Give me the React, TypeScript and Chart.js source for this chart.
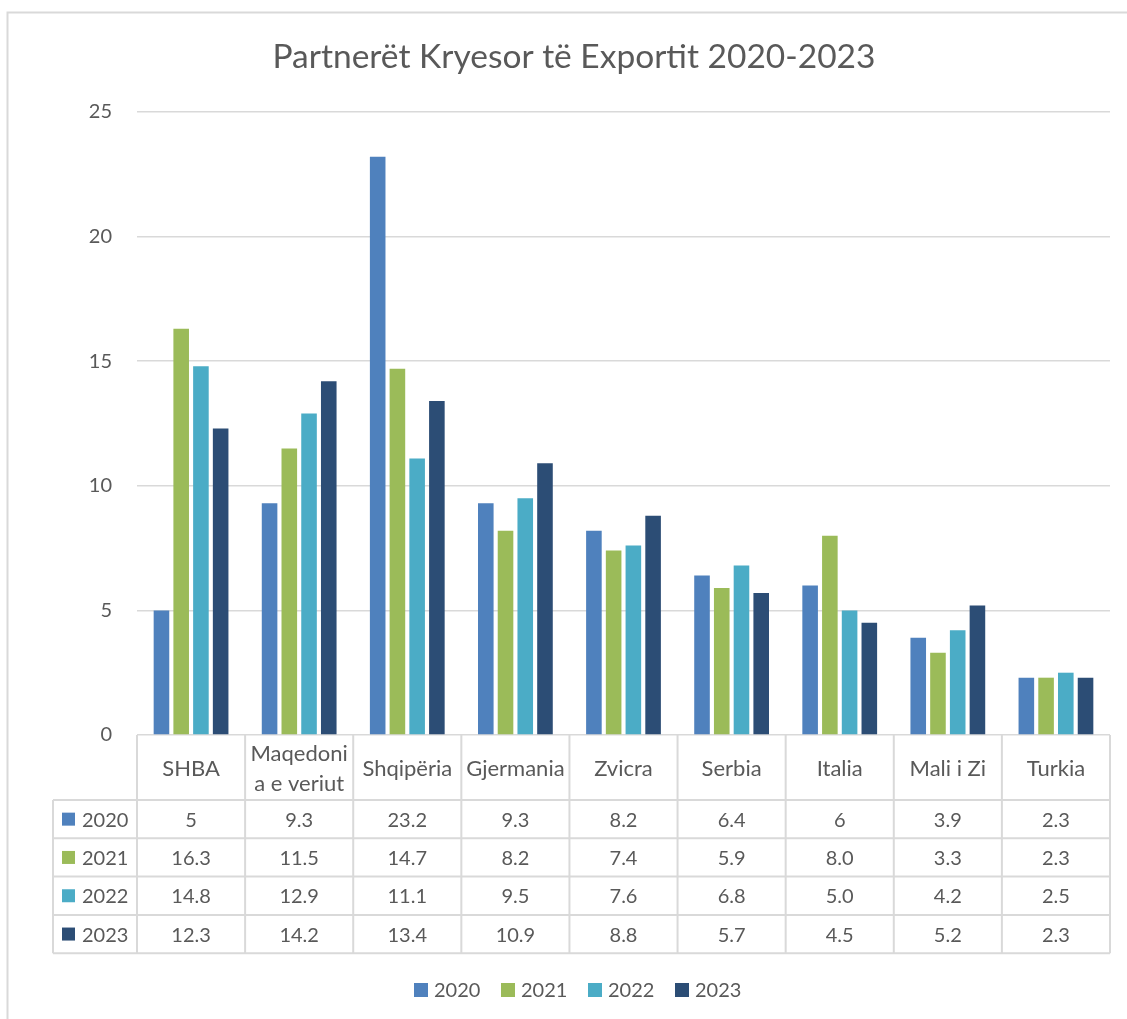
import React, { useEffect, useRef } from "react";
import { Chart, registerables } from "chart.js";

Chart.register(...registerables);

const chartTitle = "Partnerët Kryesor të Exportit 2020-2023";
const categories: (string | string[])[] = [
  "SHBA",
  ["Maqedoni", "a e veriut"],
  "Shqipëria",
  "Gjermania",
  "Zvicra",
  "Serbia",
  "Italia",
  "Mali i Zi",
  "Turkia",
];
const years = ["2020", "2021", "2022", "2023"];
const values2020 = [5, 9.3, 23.2, 9.3, 8.2, 6.4, 6, 3.9, 2.3];
const values2021 = [16.3, 11.5, 14.7, 8.2, 7.4, 5.9, 8.0, 3.3, 2.3];
const values2022 = [14.8, 12.9, 11.1, 9.5, 7.6, 6.8, 5.0, 4.2, 2.5];
const values2023 = [12.3, 14.2, 13.4, 10.9, 8.8, 5.7, 4.5, 5.2, 2.3];
const seriesValues = [values2020, values2021, values2022, values2023];
const seriesColors = ["#4F81BD", "#9BBB59", "#4BACC6", "#2C4D75"];
// table number format per series: null = general, number = fixed decimals
const tableDecimals: (number | null)[] = [null, 1, 1, 1];
const yMin = 0;
const yMax = 25;
const yStep = 5;

const W = 1127;
const H = 1019;
const FONT = "Lato, 'Open Sans', sans-serif";
const TEXT = "#595959";
const LINE = "#d9d9d9";
const PAD_LEFT = 38;

const tablePlugin = {
  id: "dataTableAndLegend",
  afterDraw(chart: any) {
    const { ctx, chartArea, scales } = chart;
    const xs = scales.x;
    const n = categories.length;
    const cw = (chartArea.right - chartArea.left) / n;
    const headerTop = chartArea.bottom;
    const headerBottom = headerTop + 65;
    const rowH = 38.3;
    const leftCol = 53;
    const tableBottom = headerBottom + rowH * years.length;

    ctx.save();
    // outer frame
    ctx.strokeStyle = LINE;
    ctx.lineWidth = 2;
    ctx.beginPath();
    ctx.moveTo(7.5, H);
    ctx.lineTo(7.5, 12.5);
    ctx.lineTo(W, 12.5);
    ctx.stroke();

    // table lines
    ctx.lineWidth = 2;
    ctx.beginPath();
    for (let i = 0; i <= n; i++) {
      const bx = chartArea.left + i * cw;
      ctx.moveTo(bx, headerTop);
      ctx.lineTo(bx, tableBottom);
    }
    ctx.moveTo(leftCol, headerBottom);
    ctx.lineTo(leftCol, tableBottom);
    for (let k = 0; k <= years.length; k++) {
      const y = headerBottom + k * rowH;
      ctx.moveTo(leftCol, y);
      ctx.lineTo(chartArea.right, y);
    }
    ctx.stroke();

    // header labels
    ctx.fillStyle = TEXT;
    ctx.font = `22px ${FONT}`;
    ctx.textAlign = "center";
    ctx.textBaseline = "middle";
    const hc = (headerTop + headerBottom) / 2;
    categories.forEach((c, i) => {
      const cx = xs.getPixelForValue(i);
      const lines = Array.isArray(c) ? c : [c];
      const lh = 30;
      lines.forEach((ln, j) => {
        ctx.fillText(ln, cx, hc + 1 + (j - (lines.length - 1) / 2) * lh);
      });
    });

    // rows
    ctx.font = `20px ${FONT}`;
    years.forEach((yr, k) => {
      const cy = headerBottom + k * rowH + rowH / 2;
      ctx.fillStyle = seriesColors[k];
      ctx.fillRect(62, cy - 6.5, 13, 13);
      ctx.fillStyle = TEXT;
      ctx.textAlign = "left";
      ctx.fillText(yr, 82, cy + 1);
      ctx.textAlign = "center";
      const dec = tableDecimals[k];
      seriesValues[k].forEach((v, i) => {
        const s = dec === null ? String(v) : v.toFixed(dec);
        ctx.fillText(s, xs.getPixelForValue(i), cy + 1);
      });
    });

    // legend
    const legY = 990;
    const legX0 = 414;
    const legStep = 87;
    years.forEach((yr, k) => {
      const lx = legX0 + k * legStep;
      ctx.fillStyle = seriesColors[k];
      ctx.fillRect(lx, legY - 7, 14, 14);
      ctx.fillStyle = TEXT;
      ctx.textAlign = "left";
      ctx.fillText(yr, lx + 20, legY + 1);
    });
    ctx.restore();
  },
};

export default function App() {
  const ref = useRef<HTMLCanvasElement | null>(null);
  useEffect(() => {
    if (!ref.current) return;
    const chart = new Chart(ref.current, {
      type: "bar",
      data: {
        labels: categories as any,
        datasets: years.map((yr, k) => ({
          label: yr,
          data: seriesValues[k],
          backgroundColor: seriesColors[k],
          borderWidth: 0,
          categoryPercentage: 0.73,
          barPercentage: 0.79,
        })),
      },
      options: {
        responsive: false,
        animation: false,
        devicePixelRatio: 1,
        layout: { padding: { left: PAD_LEFT, right: 17, top: 12, bottom: 0 } },
        plugins: {
          legend: { display: false },
          tooltip: { enabled: false },
          title: {
            display: true,
            text: chartTitle,
            color: TEXT,
            font: { family: FONT, size: 33.5, weight: "normal" as any, lineHeight: 1.2 },
            padding: { top: 25, bottom: 34.8 },
          },
        },
        scales: {
          x: {
            display: true,
            ticks: { display: false },
            grid: { display: false, drawTicks: false },
            border: { display: false },
            afterFit: (s: any) => {
              s.height = H - 735;
            },
          },
          y: {
            min: yMin,
            max: yMax,
            ticks: {
              stepSize: yStep,
              padding: 25,
              color: TEXT,
              font: { family: FONT, size: 20 },
            },
            grid: { color: LINE, lineWidth: 1.5, drawTicks: false },
            border: { display: false },
            afterFit: (s: any) => {
              s.width = 137 - PAD_LEFT;
            },
          },
        },
      },
      plugins: [tablePlugin],
    });
    return () => chart.destroy();
  }, []);
  return (
    <div style={{ position: "absolute", left: 0, top: 0, width: W, height: H, background: "#fff" }}>
      <canvas ref={ref} width={W} height={H} />
    </div>
  );
}
